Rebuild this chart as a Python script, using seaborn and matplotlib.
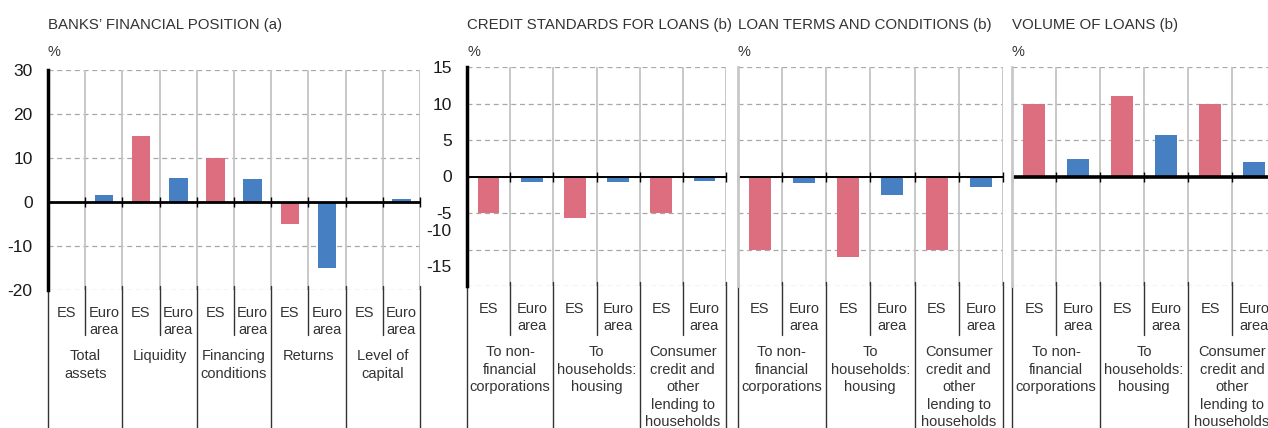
import numpy as np
import pandas as pd
import matplotlib
matplotlib.use("Agg")
import matplotlib.pyplot as plt
import matplotlib.transforms as mtransforms
import seaborn as sns

# ---------------- data ----------------
series = ["ES", "Euro area"]
series_labels = ["ES", "Euro\narea"]
palette = {"ES": "#DC6E7F", "Euro area": "#467FC2"}

p1_title = "BANKS’ FINANCIAL POSITION (a)"
p1_groups = ["Total\nassets", "Liquidity", "Financing\nconditions", "Returns", "Level of\ncapital"]
p1_es = [0.0, 15.0, 10.0, -5.0, 0.0]
p1_ea = [1.5, 5.4, 5.2, -15.0, 0.6]
p1_yticks = [-20, -10, 0, 10, 20, 30]

loan_groups = ["To non-\nfinancial\ncorporations", "To\nhouseholds:\nhousing",
               "Consumer\ncredit and\nother\nlending to\nhouseholds"]
loan_yticks = [-15, -10, -5, 0, 5, 10, 15]

p2_title = "CREDIT STANDARDS FOR LOANS (b)"
p2_es = [-5.0, -5.7, -5.0]
p2_ea = [-0.7, -0.8, -0.6]

p3_title = "LOAN TERMS AND CONDITIONS (b)"
p3_es = [-10.0, -11.0, -10.0]
p3_ea = [-0.9, -2.5, -1.4]

p4_title = "VOLUME OF LOANS (b)"
p4_es = [10.0, 11.0, 10.0]
p4_ea = [2.4, 5.7, 2.0]

unit_label = "%"

# ---------------- style ----------------
sns.set_style("white")
plt.rcParams["font.family"] = ["Liberation Sans", "DejaVu Sans"]
plt.rcParams["axes.unicode_minus"] = False
TXT = "#333333"
LS = 1.32

W, H = 1268, 428
fig = plt.figure(figsize=(W / 100, H / 100), dpi=100)


def px_axes(left, top, right, bottom):
    return fig.add_axes([left / W, 1 - bottom / H, (right - left) / W, (bottom - top) / H])


def make_df(groups, es, ea):
    rows = []
    for g, a, b in zip(groups, es, ea):
        rows.append({"slot": g + "|ES", "series": "ES", "value": a})
        rows.append({"slot": g + "|EA", "series": "Euro area", "value": b})
    return pd.DataFrame(rows)


def draw_panel(ax, title, groups, es, ea, yticks, top_px, bottom_px, left_px,
               dark_spine, zero_lw, show_ylabels):
    hpx = bottom_px - top_px
    df = make_df(groups, es, ea)
    order = list(df["slot"])
    sns.barplot(data=df, x="slot", y="value", hue="series", order=order,
                hue_order=series, palette=palette, dodge=False, width=0.5,
                saturation=1, linewidth=0, legend=False, ax=ax, zorder=3)
    n = len(order)
    ax.set_xlim(-0.5, n - 0.5)
    ax.set_ylim(yticks[0], yticks[-1])
    ax.set_yticks(yticks)
    ax.set_xlabel("")
    ax.set_ylabel("")
    ax.yaxis.grid(True, linestyle=(0, (4, 3)), color="#a8a8a8", lw=0.9)
    ax.xaxis.grid(False)
    ax.set_axisbelow(True)

    for s in ["top", "right", "bottom"]:
        ax.spines[s].set_visible(False)
    if dark_spine:
        ax.spines["left"].set_color("black")
        ax.spines["left"].set_linewidth(2.5)
    else:
        ax.spines["left"].set_color("#c8c8c8")
        ax.spines["left"].set_linewidth(2)
    ax.spines["left"].set_zorder(5)

    boundaries = np.arange(n + 1) - 0.5
    trans = ax.get_xaxis_transform()
    for i, b in enumerate(boundaries):
        if i > 0:
            ax.axvline(b, color="#c4c4c4", lw=1.3, zorder=1)
        low = -(H - bottom_px) / hpx if i % 2 == 0 else -(335 - bottom_px) / hpx
        ax.plot([b, b], [4 / hpx, low], transform=trans, color="#333333",
                lw=1, clip_on=False, zorder=2)

    ax.axhline(0, color="black", lw=zero_lw, zorder=4)
    ax.plot(boundaries, np.zeros(n + 1), ls="none", marker="|", ms=7, mew=1,
            color="black", zorder=4, clip_on=False)

    ax.set_xticks(range(n))
    ax.set_xticklabels(series_labels * len(groups), fontsize=10.5,
                       linespacing=LS, color=TXT)
    ax.tick_params(axis="x", length=0, pad=11.5)

    if show_ylabels:
        ax.tick_params(axis="y", direction="in", length=3, width=1, color="black",
                       labelsize=12.5, pad=11, labelcolor="#1a1a1a")
    else:
        ax.tick_params(axis="y", length=0, labelleft=False)

    for j, g in enumerate(groups):
        ax.text(2 * j + 0.5, -59 / hpx, g, transform=trans, ha="center", va="top",
                fontsize=10.5, linespacing=LS, color=TXT)

    fig.text((left_px) / W, 1 - 29 / H, title, ha="left", va="baseline",
             fontsize=10.8, color=TXT)
    fig.text(left_px / W, 1 - 52 / H, unit_label, ha="left", va="center",
             fontsize=10.5, color=TXT)


ax1 = px_axes(48, 70, 420, 290)
draw_panel(ax1, p1_title, p1_groups, p1_es, p1_ea, p1_yticks, 70, 290, 48,
           True, 2.0, True)

ax2 = px_axes(467, 67, 726, 286)
draw_panel(ax2, p2_title, loan_groups, p2_es, p2_ea, loan_yticks, 67, 286, 467,
           True, 1.4, True)

ax3 = px_axes(737.5, 67, 1003, 286)
draw_panel(ax3, p3_title, loan_groups, p3_es, p3_ea, loan_yticks, 67, 286, 737.5,
           False, 1.4, False)

ax4 = px_axes(1012, 67, 1276, 286)
draw_panel(ax4, p4_title, loan_groups, p4_es, p4_ea, loan_yticks, 67, 286, 1012,
           False, 2.6, False)

# the reference draws the two lowest labels of the credit-standards axis shifted up
shift = mtransforms.ScaledTranslation(0, 19.5 / 100, fig.dpi_scale_trans)
for tick, val in zip(ax2.yaxis.get_major_ticks(), loan_yticks):
    if val in (-10, -15):
        tick.label1.set_transform(tick.label1.get_transform() + shift)

fig.savefig("out.png", dpi=100)
